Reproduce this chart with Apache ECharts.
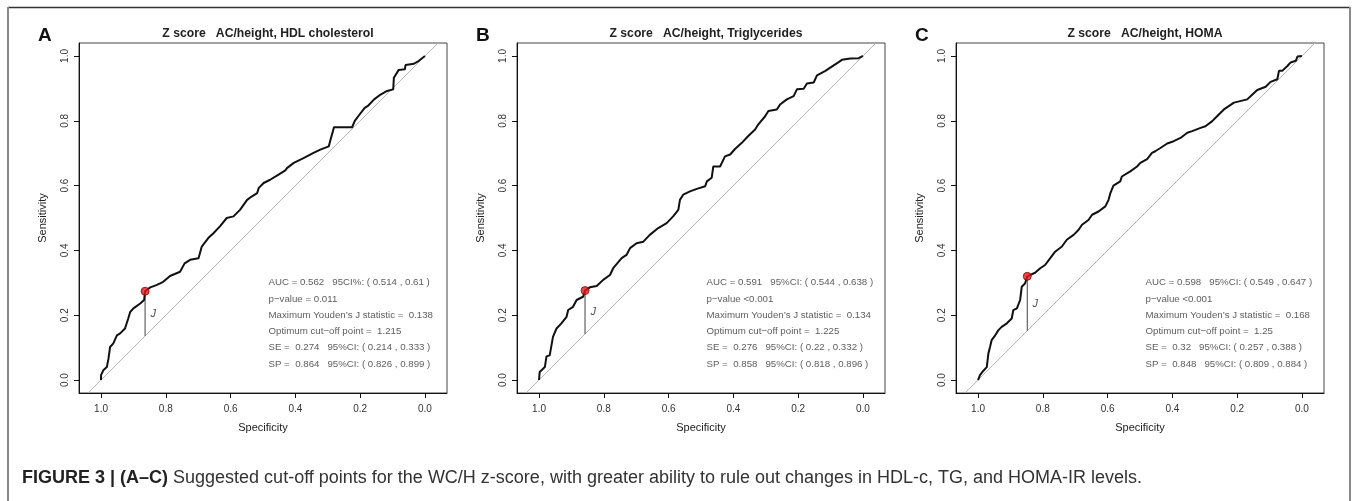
<!DOCTYPE html>
<html><head><meta charset="utf-8">
<script src="https://cdn.jsdelivr.net/npm/echarts@6/dist/echarts.min.js"></script>
<style>html,body{margin:0;padding:0;background:#fff}#c{width:1357px;height:501px}</style>
</head><body><div id="c"></div>
<script>
// ---------------- data ----------------
const tickValues = [0, 0.2, 0.4, 0.6, 0.8, 1.0];
const panelLetters = ['A', 'B', 'C'];
const panelTitles = [
  'Z score   AC/height, HDL cholesterol',
  'Z score   AC/height, Triglycerides',
  'Z score   AC/height, HOMA'
];

const specA = [1.000,1.000,0.993,0.982,0.977,0.972,0.962,0.951,0.941,0.926,0.916,0.910,0.900,0.879,0.867,0.864,0.848,0.829,0.808,0.787,0.756,0.742,0.725,0.699,0.689,0.669,0.653,0.633,0.612,0.591,0.571,0.549,0.534,0.518,0.513,0.498,0.478,0.452,0.431,0.426,0.405,0.375,0.344,0.323,0.297,0.292,0.285,0.281,0.225,0.217,0.206,0.186,0.175,0.157,0.137,0.117,0.098,0.096,0.081,0.062,0.060,0.034,0.019,0.000];
const sensA = [0.000,0.015,0.030,0.040,0.066,0.102,0.113,0.138,0.144,0.159,0.190,0.210,0.221,0.236,0.247,0.274,0.286,0.293,0.303,0.321,0.334,0.360,0.371,0.376,0.412,0.438,0.453,0.474,0.500,0.505,0.525,0.556,0.567,0.577,0.593,0.608,0.618,0.634,0.647,0.654,0.670,0.685,0.701,0.711,0.721,0.740,0.765,0.780,0.780,0.799,0.814,0.840,0.847,0.866,0.881,0.892,0.897,0.933,0.957,0.959,0.972,0.976,0.985,1.000];

const specB = [1.000,0.998,0.982,0.977,0.967,0.957,0.946,0.931,0.915,0.910,0.895,0.884,0.864,0.858,0.843,0.822,0.802,0.781,0.771,0.745,0.730,0.719,0.699,0.678,0.658,0.632,0.606,0.586,0.570,0.565,0.555,0.534,0.513,0.487,0.482,0.467,0.462,0.441,0.426,0.410,0.395,0.374,0.354,0.333,0.323,0.302,0.292,0.266,0.256,0.235,0.214,0.204,0.183,0.173,0.152,0.142,0.116,0.101,0.075,0.065,0.039,0.013,0.000];
const sensB = [0.000,0.025,0.040,0.073,0.076,0.133,0.159,0.175,0.195,0.216,0.226,0.247,0.257,0.276,0.286,0.290,0.309,0.324,0.345,0.376,0.386,0.407,0.422,0.427,0.448,0.469,0.484,0.505,0.525,0.556,0.572,0.582,0.590,0.598,0.613,0.624,0.659,0.659,0.690,0.696,0.713,0.732,0.753,0.773,0.789,0.814,0.830,0.835,0.850,0.866,0.876,0.897,0.899,0.915,0.918,0.940,0.954,0.964,0.981,0.988,0.992,0.993,1.000];

const specC = [1.000,0.994,0.984,0.973,0.968,0.963,0.958,0.947,0.937,0.927,0.911,0.896,0.891,0.880,0.870,0.865,0.855,0.848,0.824,0.808,0.793,0.777,0.762,0.741,0.726,0.705,0.690,0.679,0.659,0.648,0.628,0.607,0.597,0.592,0.582,0.561,0.556,0.530,0.509,0.499,0.478,0.463,0.453,0.437,0.416,0.396,0.375,0.354,0.339,0.313,0.298,0.277,0.262,0.241,0.226,0.210,0.169,0.153,0.138,0.112,0.097,0.076,0.071,0.061,0.045,0.035,0.019,0.014,0.000];
const sensC = [0.000,0.015,0.028,0.040,0.082,0.102,0.123,0.138,0.154,0.164,0.175,0.190,0.216,0.221,0.247,0.288,0.298,0.320,0.331,0.345,0.355,0.376,0.396,0.412,0.433,0.448,0.463,0.479,0.494,0.510,0.520,0.536,0.556,0.575,0.600,0.613,0.628,0.644,0.659,0.670,0.682,0.701,0.706,0.716,0.730,0.737,0.747,0.763,0.768,0.778,0.783,0.799,0.814,0.835,0.845,0.856,0.866,0.881,0.895,0.905,0.920,0.928,0.954,0.954,0.969,0.980,0.985,0.998,1.000];

const cutSpec = [0.864, 0.858, 0.848];
const cutSens = [0.274, 0.276, 0.32];

const statsA = [
  'AUC = 0.562   95CI%: ( 0.514 , 0.61 )',
  'p\u2212value = 0.011',
  'Maximum Youden\u2019s J statistic =  0.138',
  'Optimum cut\u2212off point =  1.215',
  'SE =  0.274   95%CI: ( 0.214 , 0.333 )',
  'SP =  0.864   95%CI: ( 0.826 , 0.899 )'
];
const statsB = [
  'AUC = 0.591   95%CI: ( 0.544 , 0.638 )',
  'p\u2212value <0.001',
  'Maximum Youden\u2019s J statistic =  0.134',
  'Optimum cut\u2212off point =  1.225',
  'SE =  0.276   95%CI: ( 0.22 , 0.332 )',
  'SP =  0.858   95%CI: ( 0.818 , 0.896 )'
];
const statsC = [
  'AUC = 0.598   95%CI: ( 0.549 , 0.647 )',
  'p\u2212value <0.001',
  'Maximum Youden\u2019s J statistic =  0.168',
  'Optimum cut\u2212off point =  1.25',
  'SE =  0.32   95%CI: ( 0.257 , 0.388 )',
  'SP =  0.848   95%CI: ( 0.809 , 0.884 )'
];
const statsLineSens = [0.30, 0.25, 0.20, 0.15, 0.10, 0.05];
const statsSpec = 0.483;

const captionBold = 'FIGURE 3 | (A\u2013C)';
const captionText = ' Suggested cut-off points for the WC/H z-score, with greater ability to rule out changes in HDL-c, TG, and HOMA-IR levels.';

// ---------------- layout ----------------
const FONT = 'Liberation Sans, Arial, Helvetica, sans-serif';
const gridLefts = [79, 517, 956];
const GRID_TOP = 43, GRID_W = 368, GRID_H = 350;
const Y_MIN = -0.04, Y_MAX = 1.04;
const X_MIN = -0.068, X_MAX = 1.068;

const specs = [specA, specB, specC];
const senss = [sensA, sensB, sensC];
const stats = [statsA, statsB, statsC];

const grid = [], xAxis = [], yAxis = [], series = [], title = [];
for (let i = 0; i < 3; i++) {
  grid.push({left: gridLefts[i], top: GRID_TOP, width: GRID_W, height: GRID_H,
    show: true, borderColor: '#444', borderWidth: 1, backgroundColor: 'transparent'});
  xAxis.push({type: 'value', gridIndex: i, inverse: true, min: X_MIN, max: X_MAX,
    name: 'Specificity', nameLocation: 'middle', nameGap: 29,
    nameTextStyle: {fontFamily: FONT, fontSize: 11, color: '#222'},
    axisLine: {show: true, onZero: false, lineStyle: {color: '#111', width: 1}},
    axisTick: {show: true, inside: false, length: 5, lineStyle: {color: '#111'}, customValues: tickValues},
    axisLabel: {fontFamily: FONT, fontSize: 10, color: '#333', margin: 11, customValues: tickValues,
      formatter: v => v.toFixed(1)},
    splitLine: {show: false}});
  yAxis.push({type: 'value', gridIndex: i, min: Y_MIN, max: Y_MAX,
    name: 'Sensitivity', nameLocation: 'middle', nameGap: 31, nameRotate: 90,
    nameTextStyle: {fontFamily: FONT, fontSize: 11, color: '#222'},
    axisLine: {show: true, onZero: false, lineStyle: {color: '#111', width: 1}},
    axisTick: {show: true, inside: false, length: 5, lineStyle: {color: '#111'}, customValues: tickValues},
    axisLabel: {fontFamily: FONT, fontSize: 10, color: '#333', margin: 9, rotate: 90, customValues: tickValues,
      formatter: v => v.toFixed(1)},
    splitLine: {show: false}});

  title.push({text: panelTitles[i], left: gridLefts[i] + GRID_W / 2, top: 23, textAlign: 'center',
    textStyle: {fontFamily: FONT, fontSize: 12.2, fontWeight: 'bold', color: '#222'}});
  title.push({text: panelLetters[i], left: gridLefts[i] - 46, top: 21,
    textStyle: {fontFamily: FONT, fontSize: 19, fontWeight: 'bold', color: '#111'}});

  // diagonal reference line spanning plot region
  series.push({type: 'line', xAxisIndex: i, yAxisIndex: i, silent: true, symbol: 'none',
    data: [[1 - Y_MIN, Y_MIN], [1 - Y_MAX, Y_MAX]],
    lineStyle: {color: '#b5b5b5', width: 1}, z: 1});
  // Youden J segment
  series.push({type: 'line', xAxisIndex: i, yAxisIndex: i, silent: true, symbol: 'none',
    data: [[cutSpec[i], 1 - cutSpec[i]], [cutSpec[i], cutSens[i]]],
    lineStyle: {color: '#444', width: 1}, z: 2});
  // ROC curve
  series.push({type: 'line', xAxisIndex: i, yAxisIndex: i, silent: true, symbol: 'none',
    data: specs[i].map((s, k) => [s, senss[i][k]]),
    lineStyle: {color: '#111', width: 2}, z: 3});
  // optimal cut-off point
  series.push({type: 'scatter', xAxisIndex: i, yAxisIndex: i, silent: true, symbolSize: 8,
    data: [[cutSpec[i], cutSens[i]]],
    itemStyle: {color: '#e3191c', borderColor: '#7a0a0a', borderWidth: 1}, z: 5});
  // J label
  series.push({type: 'scatter', xAxisIndex: i, yAxisIndex: i, silent: true, symbolSize: 0,
    data: [[cutSpec[i] - 0.025, (cutSens[i] + 1 - cutSpec[i]) / 2]],
    label: {show: true, position: 'inside', formatter: 'J', fontFamily: FONT, fontSize: 11,
      fontStyle: 'italic', color: '#222'}, z: 4});
  // stats text
  series.push({type: 'scatter', xAxisIndex: i, yAxisIndex: i, silent: true, symbolSize: 0,
    data: stats[i].map((t, k) => ({name: t, value: [statsSpec, statsLineSens[k]]})),
    label: {show: true, position: 'right', distance: 0, formatter: p => p.name,
      fontFamily: FONT, fontSize: 9.7, color: '#333', align: 'left', verticalAlign: 'middle'}, z: 4});
}

const chart = echarts.init(document.getElementById('c'), null, {renderer: 'canvas'});
chart.setOption({
  animation: false,
  backgroundColor: '#fff',
  title, grid, xAxis, yAxis, series,
  graphic: [
    {type: 'line', shape: {x1: 8, y1: 7.5, x2: 1350, y2: 7.5}, style: {stroke: '#333', lineWidth: 1.5}, silent: true},
    {type: 'line', shape: {x1: 8, y1: 7, x2: 8, y2: 501}, style: {stroke: '#8a8a8a', lineWidth: 2}, silent: true},
    {type: 'line', shape: {x1: 1350, y1: 7, x2: 1350, y2: 501}, style: {stroke: '#8a8a8a', lineWidth: 2}, silent: true},
    {type: 'text', left: 22, top: 469, silent: true,
      style: {text: '{b|' + captionBold + '}{r|' + captionText + '}',
        rich: {b: {fontFamily: FONT, fontSize: 18, fontWeight: 'bold', fill: '#222'},
               r: {fontFamily: FONT, fontSize: 18, fill: '#333'}}}}
  ]
});
</script></body></html>
